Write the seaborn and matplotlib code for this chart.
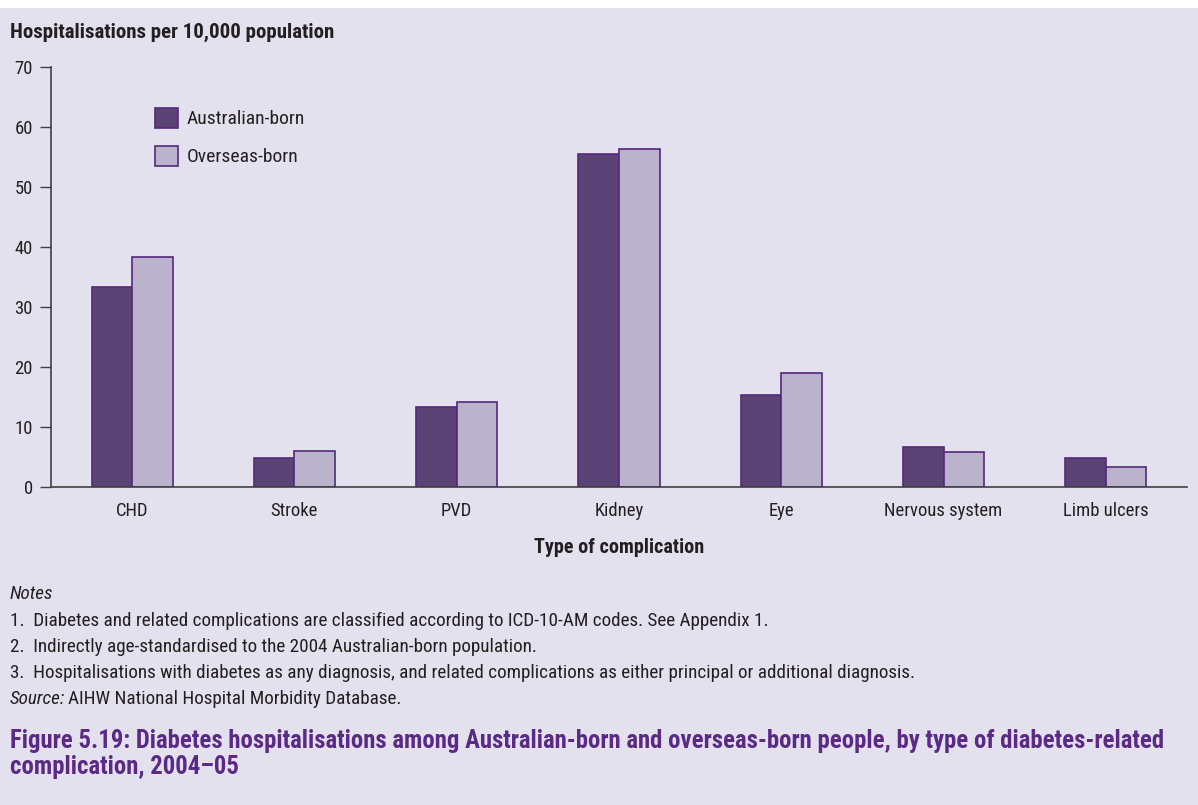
import pandas as pd
import numpy as np
import seaborn as sns
import matplotlib.pyplot as plt
from matplotlib.patches import Rectangle

#--> data
complications = ['CHD', 'Stroke', 'PVD', 'Kidney', 'Eye', 'Nervous system', 'Limb ulcers']
australian_born = [33.4, 4.8, 13.3, 55.5, 15.3, 6.6, 4.9]
overseas_born = [38.4, 6.0, 14.2, 56.3, 19.0, 5.9, 3.3]
groups = ['Australian-born', 'Overseas-born']
y_ticks = [0, 10, 20, 30, 40, 50, 60, 70]

notes = [
    '1.  Diabetes and related complications are classified according to ICD-10-AM codes. See Appendix 1.',
    '2.  Indirectly age-standardised to the 2004 Australian-born population.',
    '3.  Hospitalisations with diabetes as any diagnosis, and related complications as either principal or additional diagnosis.',
]
title = ('Figure 5.19: Diabetes hospitalisations among Australian-born and overseas-born people, by type of diabetes-related\n'
         'complication, 2004\u201305')

#--> plot style
bg = '#E4E1EE'
dark = '#5C3B7E'
light = '#B9AFCF'
ink = '#231F20'
sns.set_theme(style='white')
plt.rcParams['font.family'] = ['Roboto Condensed', 'Liberation Sans Narrow', 'Roboto', 'DejaVu Sans']

df = pd.DataFrame({
    'Complication': complications * 2,
    'Rate': australian_born + overseas_born,
    'Group': [groups[0]] * len(complications) + [groups[1]] * len(complications),
})

W, H = 1198, 805
fig = plt.figure(figsize=(W / 100, H / 100), dpi=100, facecolor=bg)
fig.patches.append(Rectangle((0, 1 - 8 / H), 1, 8 / H, transform=fig.transFigure,
                             facecolor='white', edgecolor='none', zorder=0))
ax = fig.add_axes([51 / W, 1 - 487 / H, 1136 / W, 420 / H])
ax.set_facecolor(bg)

sns.barplot(data=df, x='Complication', y='Rate', hue='Group', order=complications,
            hue_order=groups, palette=[dark, light], width=0.5, gap=0,
            edgecolor='#55287F', linewidth=1.2, ax=ax)

ax.set_xlim(-0.5, 6.5)
ax.set_ylim(0, 70)
ax.set_yticks(y_ticks)
ax.tick_params(axis='y', direction='out', length=8, width=1, color='#404040',
               labelsize=13.4, labelcolor=ink, pad=5, left=True)
ax.tick_params(axis='x', length=0, labelsize=13.4, labelcolor=ink, pad=11)
ax.set_xlabel('Type of complication', fontsize=14.5, fontweight='bold', color=ink, labelpad=13)
ax.set_ylabel('')
for s in ['top', 'right']:
    ax.spines[s].set_visible(False)
for s in ['left', 'bottom']:
    ax.spines[s].set_color('#404040')
    ax.spines[s].set_linewidth(1.2)

leg = ax.legend(loc='upper left', bbox_to_anchor=(0.076, 0.945), frameon=False,
                fontsize=14, handlelength=1.2, handleheight=1.2, labelspacing=0.9,
                handletextpad=0.45)
for t in leg.get_texts():
    t.set_color(ink)

#--> texts outside the axes
fig.text(10 / W, 1 - 32 / H, 'Hospitalisations per 10,000 population', fontsize=15,
         fontweight='bold', color=ink, va='center')
fig.text(10 / W, 1 - 594 / H, 'Notes', fontsize=13.8, style='italic', color=ink, va='center')
for i, n in enumerate(notes):
    fig.text(10 / W, 1 - (621 + 26 * i) / H, n, fontsize=13.8, color=ink, va='center')
src = fig.text(10 / W, 1 - 699 / H, 'Source:', fontsize=13.8, style='italic', color=ink, va='center')
bb = src.get_window_extent(renderer=fig.canvas.get_renderer())
fig.text((bb.x1 + 3) / W, 1 - 699 / H, 'AIHW National Hospital Morbidity Database.', fontsize=13.8,
         color=ink, va='center')
fig.text(10 / W, 1 - 754 / H, title, fontsize=17.8, fontweight='bold', color='#5B2A86',
         va='center', linespacing=1.1)

fig.savefig('out.png', dpi=100, facecolor=bg)
